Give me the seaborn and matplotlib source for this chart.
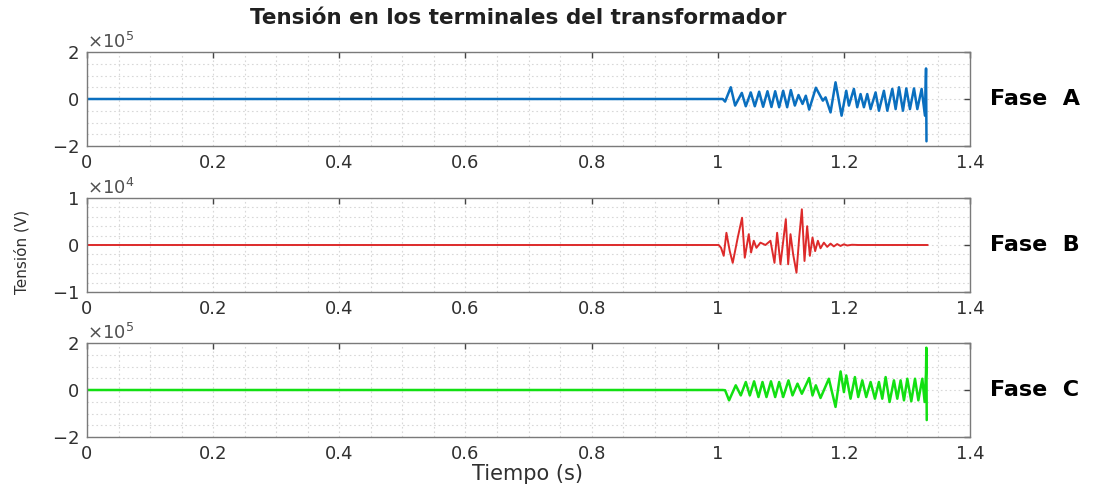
import numpy as np
import pandas as pd
import matplotlib
matplotlib.use("Agg")
import matplotlib.pyplot as plt
from matplotlib.ticker import MultipleLocator, FixedLocator
import seaborn as sns

# ---------------- data ----------------
title = "Tensión en los terminales del transformador"
x_label = "Tiempo (s)"
y_label = "Tensión (V)"
phase_names = ["Fase  A", "Fase  B", "Fase  C"]
x_ticks = [0, 0.2, 0.4, 0.6, 0.8, 1.0, 1.2, 1.4]
x_tick_labels = ["0", "0.2", "0.4", "0.6", "0.8", "1", "1.2", "1.4"]

# Phase A (V)
t_a = [0.0, 1.008, 1.0117, 1.0207, 1.0276, 1.0382, 1.0445, 1.0524, 1.0588, 1.0657,
       1.0720, 1.0789, 1.0852, 1.0911, 1.0974, 1.1038, 1.1101, 1.1159, 1.1223, 1.1281,
       1.1345, 1.1397, 1.1450, 1.1556, 1.1667, 1.1710, 1.1789, 1.1868, 1.1964, 1.2038,
       1.2080, 1.2159, 1.2212, 1.2265, 1.2318, 1.2371, 1.2424, 1.2503, 1.2556, 1.2635,
       1.2689, 1.2768, 1.2821, 1.2874, 1.2937, 1.2990, 1.3048, 1.3112, 1.3165, 1.3233,
       1.3286, 1.3303, 1.3310]
v_a = [0, 0, -11000, 50000, -28000, 26000, -31000, 28000, -31000, 31000,
       -33000, 33000, -34000, 33000, -35000, 35000, -35000, 38000, -28000, 17000,
       -21000, 14000, -45000, 48000, -7000, 7000, -57000, 71000, -71000, 35000,
       -28000, 43000, -35000, 21000, -35000, 21000, -43000, 28000, -50000, 35000,
       -50000, 43000, -43000, 50000, -50000, 45000, -43000, 45000, -43000, 43000,
       -71000, 130000, -180000]

# Phase B (V)
t_b = [0.0, 1.0016, 1.0053, 1.0095, 1.0138, 1.0191, 1.0238, 1.0318, 1.0386, 1.0429,
       1.0492, 1.0529, 1.0572, 1.0614, 1.0677, 1.0757, 1.0836, 1.0900, 1.0942, 1.0995,
       1.1080, 1.1117, 1.1154, 1.1196, 1.1249, 1.1292, 1.1334, 1.1376, 1.1418, 1.1461,
       1.1503, 1.1545, 1.1588, 1.1630, 1.1683, 1.1736, 1.1789, 1.1841, 1.1894, 1.1947,
       1.2000, 1.2053, 1.2130, 1.2230, 1.3330]
v_b = [0, 0, -600, -2300, 2600, -1300, -3800, 1600, 5800, -2700,
       2300, -1600, 900, -600, 500, 0, 900, -3800, 2600, -4100,
       5500, -4100, 2300, -2000, -5900, 1600, 7600, -3400, 4000, -2300,
       1600, -1300, 900, -700, 500, -400, 300, -300, 200, -200,
       150, -100, 50, 0, 0]

# Phase C (V)
t_c = [0.0, 1.008, 1.0117, 1.0180, 1.0286, 1.0366, 1.0445, 1.0509, 1.0577, 1.0646,
       1.0710, 1.0773, 1.0844, 1.0911, 1.0974, 1.1038, 1.1122, 1.1186, 1.1265, 1.1334,
       1.1450, 1.1503, 1.1556, 1.1630, 1.1762, 1.1868, 1.1948, 1.2001, 1.2038, 1.2106,
       1.2175, 1.2228, 1.2292, 1.2355, 1.2424, 1.2493, 1.2556, 1.2609, 1.2662, 1.2725,
       1.2794, 1.2847, 1.2900, 1.2953, 1.3006, 1.3069, 1.3128, 1.3181, 1.3244, 1.3281,
       1.3302, 1.3308, 1.3314]
v_c = [0, 0, -1000, -44000, 20000, -23000, 34000, -23000, 37000, -30000,
       34000, -30000, 37000, -30000, 34000, -30000, 41000, -23000, 27000, -16000,
       51000, -23000, 20000, -34000, 48000, -72000, 79000, -9000, 62000, -37000,
       55000, -30000, 41000, -30000, 34000, -37000, 34000, -37000, 55000, -51000,
       41000, -37000, 41000, -44000, 48000, -48000, 48000, -44000, 48000, -51000,
       70000, 180000, -128000]

series = [(t_a, v_a, "#0a6fbf"), (t_b, v_b, "#dd2a2a"), (t_c, v_c, "#12e012")]
y_limits = [(-2e5, 2e5), (-1e4, 1e4), (-2e5, 2e5)]
y_ticks = [[-2e5, 0, 2e5], [-1e4, 0, 1e4], [-2e5, 0, 2e5]]
y_minor = [5e4, 2e3, 5e4]
line_w = [1.8, 1.4, 1.8]

# ---------------- style ----------------
sns.set_style("white")
plt.rcParams["font.family"] = ["DejaVu Sans"]
plt.rcParams["axes.unicode_minus"] = False

W, H = 1105, 486
fig = plt.figure(figsize=(W / 100, H / 100), dpi=100)

left, right = 87, 970
tops = [52, 198, 343]
ax_h = 94
spine_col = "#7a7a7a"
text_col = "#303030"

axes = []
for i, (t, v, col) in enumerate(series):
    top = tops[i]
    ax = fig.add_axes([left / W, 1 - (top + ax_h) / H, (right - left) / W, ax_h / H])
    df = pd.DataFrame({"t": t, "v": v})
    sns.lineplot(data=df, x="t", y="v", ax=ax, color=col, linewidth=line_w[i],
                 estimator=None, sort=False, solid_joinstyle="round")
    ax.set_xlim(0, 1.4)
    ax.set_ylim(*y_limits[i])
    ax.xaxis.set_major_locator(FixedLocator(x_ticks))
    ax.set_xticklabels(x_tick_labels)
    ax.yaxis.set_major_locator(FixedLocator(y_ticks[i]))
    ax.ticklabel_format(axis="y", style="sci", scilimits=(0, 0), useMathText=True)
    ax.xaxis.set_minor_locator(MultipleLocator(0.05))
    ax.yaxis.set_minor_locator(MultipleLocator(y_minor[i]))
    ax.grid(True, which="both", linestyle=(0, (1.5, 2.5)), color="#d8d8d8", linewidth=0.8)
    ax.set_axisbelow(True)
    ax.tick_params(which="major", direction="in", length=4, width=1, color="#444444",
                   top=True, right=True, labelsize=13, labelcolor=text_col, pad=6)
    ax.tick_params(which="minor", length=0)
    for s in ax.spines.values():
        s.set_color(spine_col)
        s.set_linewidth(1.0)
    ax.set_xlabel("")
    ax.set_ylabel("")
    off = ax.yaxis.get_offset_text()
    off.set_fontsize(13)
    off.set_color("#505050")
    fig.text(990 / W, 1 - (top + ax_h / 2) / H, phase_names[i], fontsize=16,
             fontweight="heavy", color="black", ha="left", va="center")
    axes.append(ax)

fig.text(518 / W, 1 - 18 / H, title, fontsize=15.5, fontweight="bold",
         color="#202020", ha="center", va="center")
fig.text(528 / W, 1 - 474 / H, x_label, fontsize=15, color=text_col,
         ha="center", va="center")
fig.text(22 / W, 1 - 252 / H, y_label, fontsize=11, color=text_col, rotation=90,
         ha="center", va="center")

fig.savefig("out.png", dpi=100)
